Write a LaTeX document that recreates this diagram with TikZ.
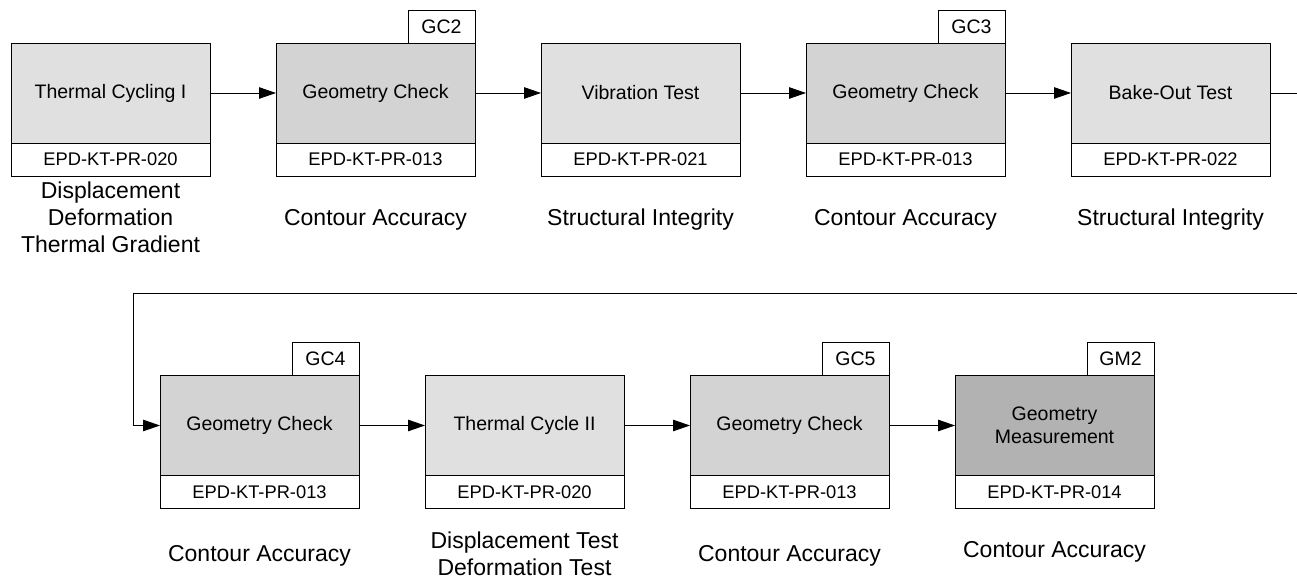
\documentclass[tikz,border=0pt]{standalone}
\usepackage{fontspec}
\setmainfont{Liberation Sans}
\usepackage{xcolor}
\usepackage{tikz}
\usetikzlibrary{positioning,arrows.meta}

\definecolor{testgray}{HTML}{E0E0E0}
\definecolor{checkgray}{HTML}{D3D3D3}
\definecolor{measgray}{HTML}{B2B2B2}

\begin{document}
\begin{tikzpicture}[x=1pt,y=1pt,node distance=66pt,line width=0.9pt,
  box/.style={draw,inner sep=0pt,outer sep=0pt,minimum width=199pt,minimum height=100pt,
    align=center,font=\fontsize{19.5pt}{23pt}\selectfont},
  codebox/.style={draw,fill=white,inner sep=0pt,outer sep=0pt,minimum width=199pt,minimum height=33pt,
    font=\fontsize{18.3pt}{22pt}\selectfont},
  tag/.style={draw,fill=white,inner sep=0pt,outer sep=0pt,minimum width=67pt,minimum height=33pt,
    anchor=south east,font=\fontsize{19.5pt}{23pt}\selectfont},
  anno/.style={align=center,font=\fontsize{23pt}{27pt}\selectfont},
  arr/.style={-{Triangle[length=17pt,width=11.5pt]}}]
\useasboundingbox (0,0) rectangle (1297,580);

% upper row
\node[box,fill=testgray] (tc1) at (110.5,487) {Thermal Cycling I};
\node[box,fill=checkgray,right=of tc1] (gc2) {Geometry Check};
\node[box,fill=testgray,right=of gc2] (vib) {Vibration Test};
\node[box,fill=checkgray,right=of vib] (gc3) {Geometry Check};
\node[box,fill=testgray,right=of gc3] (bake) {Bake-Out Test};

\node[codebox,below=0pt of tc1] (tc1c) {EPD-KT-PR-020};
\node[codebox,below=0pt of gc2] (gc2c) {EPD-KT-PR-013};
\node[codebox,below=0pt of vib] (vibc) {EPD-KT-PR-021};
\node[codebox,below=0pt of gc3] (gc3c) {EPD-KT-PR-013};
\node[codebox,below=0pt of bake] (bakec) {EPD-KT-PR-022};

\node[tag] (gc2t) at (gc2.north east) {GC2};
\node[tag] (gc3t) at (gc3.north east) {GC3};

\node[anno] (tc1a) at ([yshift=-41pt]tc1c.south) {Displacement\\Deformation\\Thermal Gradient};
\node[anno] (gc2a) at ([yshift=-44pt]gc2c.south) {Contour Accuracy};
\node[anno] (viba) at ([yshift=-44pt]vibc.south) {Structural Integrity};
\node[anno] (gc3a) at ([yshift=-44pt]gc3c.south) {Contour Accuracy};
\node[anno] (bakea) at ([yshift=-44pt]bakec.south) {Structural Integrity};

% lower row
\node[box,fill=checkgray] (gc4) at (259.5,154.5) {Geometry Check};
\node[box,fill=testgray,right=of gc4] (tc2) {Thermal Cycle II};
\node[box,fill=checkgray,right=of tc2] (gc5) {Geometry Check};
\node[box,fill=measgray,right=of gc5] (gm2) {Geometry\\Measurement};

\node[codebox,below=0pt of gc4] (gc4c) {EPD-KT-PR-013};
\node[codebox,below=0pt of tc2] (tc2c) {EPD-KT-PR-020};
\node[codebox,below=0pt of gc5] (gc5c) {EPD-KT-PR-013};
\node[codebox,below=0pt of gm2] (gm2c) {EPD-KT-PR-014};

\node[tag] (gc4t) at (gc4.north east) {GC4};
\node[tag] (gc5t) at (gc5.north east) {GC5};
\node[tag] (gm2t) at (gm2.north east) {GM2};

\node[anno] (gc4a) at ([yshift=-47pt]gc4c.south) {Contour Accuracy};
\node[anno] (tc2a) at ([yshift=-45pt]tc2c.south) {Displacement Test\\Deformation Test};
\node[anno] (gc5a) at ([yshift=-47pt]gc5c.south) {Contour Accuracy};
\node[anno] (gm2a) at ([yshift=-43pt]gm2c.south) {Contour Accuracy};

% connectors
\draw[arr] (tc1) -- (gc2);
\draw[arr] (gc2) -- (vib);
\draw[arr] (vib) -- (gc3);
\draw[arr] (gc3) -- (bake);
\coordinate (turn) at (1320,287);
\coordinate (back) at (133,287);
\draw[arr] (bake.east) -| (turn) -- (back) |- (gc4.west);
\draw[arr] (gc4) -- (tc2);
\draw[arr] (tc2) -- (gc5);
\draw[arr] (gc5) -- (gm2);
\end{tikzpicture}
\end{document}
